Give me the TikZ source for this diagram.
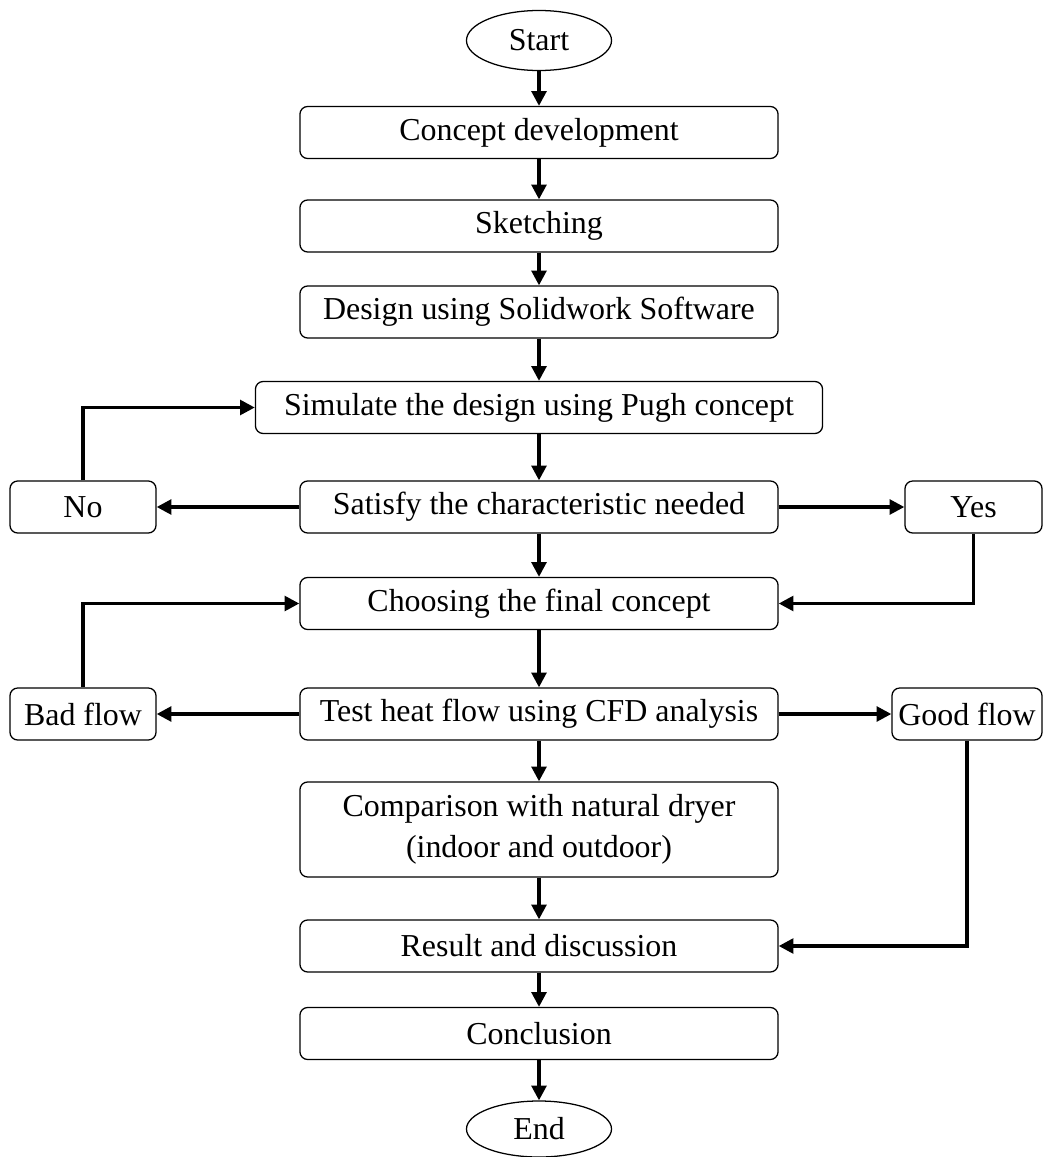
\documentclass[tikz,border=0pt]{standalone}
\usepackage{fontspec}
\setmainfont{Liberation Serif}
\usetikzlibrary{arrows.meta,shapes.geometric}

\begin{document}
\begin{tikzpicture}[x=0.025cm, y=-0.025cm, font=\fontsize{22.7pt}{29.5pt}\selectfont]
    \tikzset{box/.style={draw, rounded corners=5.5pt, line width=0.9pt, inner sep=0pt,
                         minimum width=11.95cm, minimum height=1.3cm, align=center},
             sidebox/.style={box, minimum width=3.65cm},
             term/.style={draw, ellipse, line width=0.9pt, inner sep=0pt,
                          minimum width=3.625cm, minimum height=1.5cm},
             flow/.style={line width=2.4pt, -{Triangle[length=10.5pt,width=10.5pt]}}}
    \useasboundingbox (0,0) rectangle (1047,1157);

    % Main column
    \node[term] (start) at (539, 40.5) {Start};
    \node[box] (concept) at (539, 132.5) {Concept development};
    \node[box] (sketch) at (539, 226) {Sketching};
    \node[box] (design) at (539, 312) {Design using Solidwork Software};
    \node[box, minimum width=14.175cm] (simulate) at (539, 407.5) {Simulate the design using Pugh concept};
    \node[box] (satisfy) at (539, 507) {Satisfy the characteristic needed};
    \node[box] (choose) at (539, 603.5) {Choosing the final concept};
    \node[box] (test) at (539, 714) {Test heat flow using CFD analysis};
    \node[box, minimum height=2.375cm] (compare) at (539, 829.5) {Comparison with natural dryer\\(indoor and outdoor)};
    \node[box] (result) at (539, 946) {Result and discussion};
    \node[box] (concl) at (539, 1033.5) {Conclusion};
    \node[term, minimum height=1.4cm] (end) at (539, 1129) {End};

    % Side decisions
    \node[sidebox] (no) at (83, 507) {No};
    \node[sidebox, minimum width=3.425cm] (yes) at (973.5, 507) {Yes};
    \node[sidebox] (bad) at (83, 714) {Bad flow};
    \node[sidebox, minimum width=3.75cm] (good) at (967, 714) {Good flow};

    % Straight arrows down the column
    \draw[flow] (start) -- (concept);
    \draw[flow] (concept) -- (sketch);
    \draw[flow] (sketch) -- (design);
    \draw[flow] (design) -- (simulate);
    \draw[flow] (simulate) -- (satisfy);
    \draw[flow] (satisfy) -- (choose);
    \draw[flow] (choose) -- (test);
    \draw[flow] (test) -- (compare);
    \draw[flow] (compare) -- (result);
    \draw[flow] (result) -- (concl);
    \draw[flow] (concl) -- (end);

    % Branches
    \draw[flow] (satisfy) -- (no);
    \draw[flow] (satisfy) -- (yes);
    \draw[flow] (test) -- (bad);
    \draw[flow] (test) -- (good);

    % Loops back
    \draw[flow] (no.north) |- (simulate.west);
    \draw[flow] (yes.south) |- (choose.east);
    \draw[flow] (bad.north) |- (choose.west);
    \draw[flow] (good.south) |- (result.east);
  \end{tikzpicture}
\end{document}
